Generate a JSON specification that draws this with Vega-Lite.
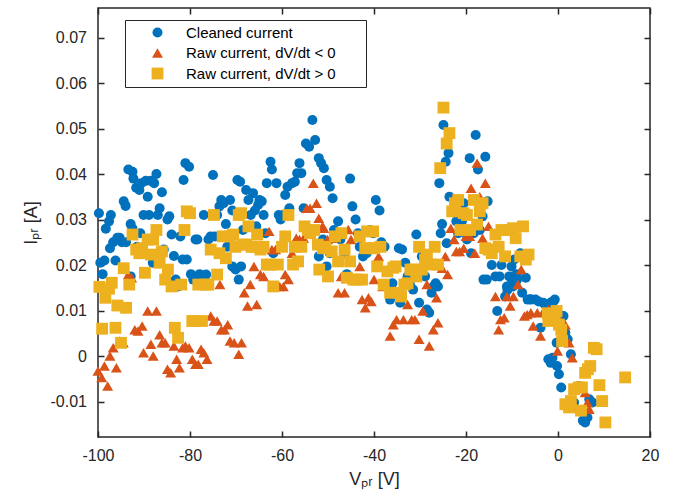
{
"$schema":"https://vega.github.io/schema/vega-lite/v6.json",
"width":552,"height":429,
"autosize":{"type":"none"},
"padding":{"left":98,"top":8,"right":24,"bottom":63},
"background":"white",
"config":{
"view":{"stroke":"#262626","strokeWidth":1.5},
"axis":{"labelFont":"Liberation Sans","labelFontSize":16,"labelColor":"#262626","labelFlush":false,"titleFont":"Liberation Sans","titleFontSize":18,"titleFontWeight":"normal","titleColor":"#262626","tickColor":"#262626","tickWidth":1.5,"tickSize":-6,"domain":false,"grid":false}
},
"data":{"values":[
{"v":-99.8,"i":0.0314,"s":"C"},{"v":-99.5,"i":0.0205,"s":"C"},{"v":-99,"i":0.018,"s":"C"},{"v":-98.6,"i":0.021,"s":"C"},{"v":-98.3,"i":0.028,"s":"C"},{"v":-97.6,"i":0.0296,"s":"C"},{"v":-97.2,"i":0.031,"s":"C"},{"v":-97.4,"i":0.0237,"s":"C"},{"v":-96.7,"i":0.025,"s":"C"},{"v":-96.2,"i":0.021,"s":"C"},{"v":-95.8,"i":0.026,"s":"C"},{"v":-95.3,"i":0.026,"s":"C"},{"v":-94.8,"i":0.025,"s":"C"},{"v":-94.4,"i":0.034,"s":"C"},{"v":-94,"i":0.033,"s":"C"},{"v":-93.9,"i":0.025,"s":"C"},{"v":-93.4,"i":0.041,"s":"C"},{"v":-92.5,"i":0.0405,"s":"C"},{"v":-92.9,"i":0.029,"s":"C"},{"v":-92.3,"i":0.039,"s":"C"},{"v":-91.7,"i":0.037,"s":"C"},{"v":-91,"i":0.0365,"s":"C"},{"v":-90.6,"i":0.038,"s":"C"},{"v":-92.9,"i":0.0175,"s":"C"},{"v":-92.5,"i":0.028,"s":"C"},{"v":-91.5,"i":0.024,"s":"C"},{"v":-90.8,"i":0.027,"s":"C"},{"v":-90.1,"i":0.031,"s":"C"},{"v":-89.6,"i":0.0385,"s":"C"},{"v":-89.2,"i":0.035,"s":"C"},{"v":-88.9,"i":0.031,"s":"C"},{"v":-88.5,"i":0.0385,"s":"C"},{"v":-88.1,"i":0.0205,"s":"C"},{"v":-87.8,"i":0.038,"s":"C"},{"v":-87.3,"i":0.04,"s":"C"},{"v":-87,"i":0.031,"s":"C"},{"v":-86.6,"i":0.0325,"s":"C"},{"v":-86.1,"i":0.036,"s":"C"},{"v":-85.7,"i":0.0234,"s":"C"},{"v":-84.9,"i":0.03,"s":"C"},{"v":-84.5,"i":0.0307,"s":"C"},{"v":-84,"i":0.0267,"s":"C"},{"v":-83.5,"i":0.022,"s":"C"},{"v":-83.1,"i":0.0168,"s":"C"},{"v":-82.6,"i":0.0153,"s":"C"},{"v":-82.1,"i":0.0263,"s":"C"},{"v":-81.6,"i":0.0212,"s":"C"},{"v":-81.4,"i":0.0387,"s":"C"},{"v":-81,"i":0.0424,"s":"C"},{"v":-80.2,"i":0.0416,"s":"C"},{"v":-80.7,"i":0.0212,"s":"C"},{"v":-79.8,"i":0.018,"s":"C"},{"v":-79.3,"i":0.0168,"s":"C"},{"v":-78.8,"i":0.0256,"s":"C"},{"v":-78.4,"i":0.0256,"s":"C"},{"v":-77.9,"i":0.018,"s":"C"},{"v":-77.4,"i":0.0175,"s":"C"},{"v":-77,"i":0.031,"s":"C"},{"v":-76.5,"i":0.0179,"s":"C"},{"v":-76,"i":0.0256,"s":"C"},{"v":-75.5,"i":0.0263,"s":"C"},{"v":-75,"i":0.0398,"s":"C"},{"v":-74.6,"i":0.0263,"s":"C"},{"v":-74.1,"i":0.031,"s":"C"},{"v":-73.6,"i":0.0329,"s":"C"},{"v":-73.2,"i":0.0343,"s":"C"},{"v":-72.7,"i":0.0336,"s":"C"},{"v":-72.2,"i":0.029,"s":"C"},{"v":-71.9,"i":0.024,"s":"C"},{"v":-71.3,"i":0.0343,"s":"C"},{"v":-70.8,"i":0.032,"s":"C"},{"v":-70.8,"i":0.0197,"s":"C"},{"v":-70.1,"i":0.019,"s":"C"},{"v":-69.7,"i":0.0387,"s":"C"},{"v":-69.1,"i":0.0383,"s":"C"},{"v":-69.4,"i":0.0168,"s":"C"},{"v":-68.9,"i":0.0197,"s":"C"},{"v":-68.5,"i":0.0277,"s":"C"},{"v":-67.8,"i":0.0365,"s":"C"},{"v":-67.3,"i":0.0343,"s":"C"},{"v":-66.8,"i":0.031,"s":"C"},{"v":-66.3,"i":0.0358,"s":"C"},{"v":-65.9,"i":0.032,"s":"C"},{"v":-65.6,"i":0.0285,"s":"C"},{"v":-65.2,"i":0.0332,"s":"C"},{"v":-64.9,"i":0.0343,"s":"C"},{"v":-64.4,"i":0.034,"s":"C"},{"v":-64,"i":0.031,"s":"C"},{"v":-63.6,"i":0.027,"s":"C"},{"v":-63.3,"i":0.038,"s":"C"},{"v":-62.5,"i":0.0427,"s":"C"},{"v":-62.2,"i":0.041,"s":"C"},{"v":-61.9,"i":0.0226,"s":"C"},{"v":-61.2,"i":0.038,"s":"C"},{"v":-60.7,"i":0.031,"s":"C"},{"v":-60.3,"i":0.03,"s":"C"},{"v":-59.7,"i":0.031,"s":"C"},{"v":-59.3,"i":0.0354,"s":"C"},{"v":-58.8,"i":0.0372,"s":"C"},{"v":-58.4,"i":0.0325,"s":"C"},{"v":-57.8,"i":0.038,"s":"C"},{"v":-57.2,"i":0.0383,"s":"C"},{"v":-56.7,"i":0.0402,"s":"C"},{"v":-56.2,"i":0.0424,"s":"C"},{"v":-55.8,"i":0.0402,"s":"C"},{"v":-55.3,"i":0.0325,"s":"C"},{"v":-54.8,"i":0.0467,"s":"C"},{"v":-54.1,"i":0.046,"s":"C"},{"v":-53.4,"i":0.0519,"s":"C"},{"v":-52.8,"i":0.0475,"s":"C"},{"v":-52,"i":0.0435,"s":"C"},{"v":-51.5,"i":0.0424,"s":"C"},{"v":-50.9,"i":0.0413,"s":"C"},{"v":-50.3,"i":0.0387,"s":"C"},{"v":-49.6,"i":0.0372,"s":"C"},{"v":-49,"i":0.0347,"s":"C"},{"v":-52,"i":0.0219,"s":"C"},{"v":-51.1,"i":0.0256,"s":"C"},{"v":-50.3,"i":0.0197,"s":"C"},{"v":-49.6,"i":0.0226,"s":"C"},{"v":-48.7,"i":0.0277,"s":"C"},{"v":-47.8,"i":0.0296,"s":"C"},{"v":-47.3,"i":0.0256,"s":"C"},{"v":-46.4,"i":0.0226,"s":"C"},{"v":-45.9,"i":0.018,"s":"C"},{"v":-45.2,"i":0.039,"s":"C"},{"v":-44.7,"i":0.0329,"s":"C"},{"v":-44,"i":0.03,"s":"C"},{"v":-43.5,"i":0.027,"s":"C"},{"v":-43.1,"i":0.024,"s":"C"},{"v":-42.4,"i":0.0219,"s":"C"},{"v":-41.6,"i":0.0226,"s":"C"},{"v":-40.9,"i":0.0277,"s":"C"},{"v":-40.2,"i":0.027,"s":"C"},{"v":-39.6,"i":0.0343,"s":"C"},{"v":-38.8,"i":0.032,"s":"C"},{"v":-38.4,"i":0.025,"s":"C"},{"v":-37.7,"i":0.024,"s":"C"},{"v":-36.9,"i":0.0153,"s":"C"},{"v":-36.5,"i":0.0124,"s":"C"},{"v":-36,"i":0.016,"s":"C"},{"v":-35.2,"i":0.0139,"s":"C"},{"v":-34.6,"i":0.0237,"s":"C"},{"v":-33.9,"i":0.0234,"s":"C"},{"v":-34.3,"i":0.0117,"s":"C"},{"v":-33.2,"i":0.0205,"s":"C"},{"v":-32.7,"i":0.0175,"s":"C"},{"v":-32.2,"i":0.0157,"s":"C"},{"v":-31.5,"i":0.0146,"s":"C"},{"v":-30.8,"i":0.0267,"s":"C"},{"v":-30.2,"i":0.0117,"s":"C"},{"v":-29.6,"i":0.0219,"s":"C"},{"v":-28.9,"i":0.0175,"s":"C"},{"v":-28.5,"i":0.0102,"s":"C"},{"v":-28,"i":0.0095,"s":"C"},{"v":-27.5,"i":0.0139,"s":"C"},{"v":-27.1,"i":0.0153,"s":"C"},{"v":-26.6,"i":0.016,"s":"C"},{"v":-26.1,"i":0.0153,"s":"C"},{"v":-25.8,"i":0.038,"s":"C"},{"v":-25.5,"i":0.027,"s":"C"},{"v":-25.2,"i":0.029,"s":"C"},{"v":-24.9,"i":0.0508,"s":"C"},{"v":-24.4,"i":0.0427,"s":"C"},{"v":-23.8,"i":0.0446,"s":"C"},{"v":-23.6,"i":0.035,"s":"C"},{"v":-24.2,"i":0.0248,"s":"C"},{"v":-23,"i":0.0318,"s":"C"},{"v":-22.6,"i":0.0321,"s":"C"},{"v":-22.1,"i":0.0296,"s":"C"},{"v":-21.7,"i":0.027,"s":"C"},{"v":-21.4,"i":0.0307,"s":"C"},{"v":-20.9,"i":0.0296,"s":"C"},{"v":-20.5,"i":0.0336,"s":"C"},{"v":-20,"i":0.027,"s":"C"},{"v":-19.8,"i":0.0256,"s":"C"},{"v":-19.2,"i":0.0435,"s":"C"},{"v":-18.9,"i":0.0226,"s":"C"},{"v":-18.3,"i":0.027,"s":"C"},{"v":-17.9,"i":0.0486,"s":"C"},{"v":-17.4,"i":0.041,"s":"C"},{"v":-17,"i":0.0277,"s":"C"},{"v":-16.4,"i":0.0307,"s":"C"},{"v":-15.8,"i":0.0438,"s":"C"},{"v":-15.3,"i":0.034,"s":"C"},{"v":-16.2,"i":0.0168,"s":"C"},{"v":-15.5,"i":0.0168,"s":"C"},{"v":-14.4,"i":0.02,"s":"C"},{"v":-13.6,"i":0.0175,"s":"C"},{"v":-13.2,"i":0.0099,"s":"C"},{"v":-12.7,"i":0.0175,"s":"C"},{"v":-12.3,"i":0.02,"s":"C"},{"v":-11.5,"i":0.0131,"s":"C"},{"v":-11.1,"i":0.0153,"s":"C"},{"v":-11,"i":0.0145,"s":"C"},{"v":-10.6,"i":0.0175,"s":"C"},{"v":-10.1,"i":0.0197,"s":"C"},{"v":-10,"i":0.016,"s":"C"},{"v":-9.8,"i":0.0153,"s":"C"},{"v":-9.5,"i":0.0212,"s":"C"},{"v":-9,"i":0.018,"s":"C"},{"v":-8.9,"i":0.0168,"s":"C"},{"v":-8.2,"i":0.0226,"s":"C"},{"v":-7.8,"i":0.0139,"s":"C"},{"v":-7,"i":0.0172,"s":"C"},{"v":-6.6,"i":0.0124,"s":"C"},{"v":-6,"i":0.0125,"s":"C"},{"v":-5.9,"i":0.0124,"s":"C"},{"v":-4.9,"i":0.0124,"s":"C"},{"v":-4.2,"i":0.012,"s":"C"},{"v":-3.8,"i":0.0062,"s":"C"},{"v":-3.2,"i":0.0117,"s":"C"},{"v":-2.6,"i":0.011,"s":"C"},{"v":-2.1,"i":-0.0007,"s":"C"},{"v":-1.6,"i":-0.0015,"s":"C"},{"v":-1.5,"i":0.0118,"s":"C"},{"v":-1.2,"i":-0.0004,"s":"C"},{"v":-1,"i":0.012,"s":"C"},{"v":-0.7,"i":0.0124,"s":"C"},{"v":-0.3,"i":0.0029,"s":"C"},{"v":-0.2,"i":-0.0022,"s":"C"},{"v":0.2,"i":-0.004,"s":"C"},{"v":0.5,"i":0.009,"s":"C"},{"v":0.7,"i":-0.0069,"s":"C"},{"v":1.2,"i":0.0088,"s":"C"},{"v":1.6,"i":0.0051,"s":"C"},{"v":2.1,"i":0.0037,"s":"C"},{"v":2.8,"i":0.0004,"s":"C"},{"v":3.5,"i":-0.0102,"s":"C"},{"v":4.5,"i":-0.0066,"s":"C"},{"v":5.4,"i":-0.0142,"s":"C"},{"v":5.9,"i":-0.0146,"s":"C"},{"v":6.4,"i":-0.0135,"s":"C"},{"v":6.8,"i":-0.0095,"s":"C"},{"v":7.5,"i":-0.0102,"s":"C"},
{"v":-100,"i":-0.0033,"s":"N"},{"v":-99.2,"i":-0.0047,"s":"N"},{"v":-98.6,"i":-0.0022,"s":"N"},{"v":-97.9,"i":-0.0066,"s":"N"},{"v":-97.4,"i":0,"s":"N"},{"v":-96.7,"i":0.0018,"s":"N"},{"v":-96,"i":-0.0026,"s":"N"},{"v":-95.3,"i":0.0033,"s":"N"},{"v":-94.5,"i":0.0029,"s":"N"},{"v":-93.4,"i":0.0179,"s":"N"},{"v":-92.7,"i":0.0172,"s":"N"},{"v":-92,"i":0.0058,"s":"N"},{"v":-91.3,"i":0.0055,"s":"N"},{"v":-90.4,"i":0.0066,"s":"N"},{"v":-90.1,"i":0.0007,"s":"N"},{"v":-89.2,"i":0.0099,"s":"N"},{"v":-88.5,"i":0.0026,"s":"N"},{"v":-88,"i":0,"s":"N"},{"v":-87.3,"i":0.0099,"s":"N"},{"v":-86.6,"i":0.0047,"s":"N"},{"v":-86.1,"i":0.0029,"s":"N"},{"v":-85.4,"i":0.0029,"s":"N"},{"v":-84.9,"i":-0.0029,"s":"N"},{"v":-84.2,"i":-0.0037,"s":"N"},{"v":-83.5,"i":0.0022,"s":"N"},{"v":-82.9,"i":-0.0007,"s":"N"},{"v":-82.3,"i":-0.0026,"s":"N"},{"v":-81.6,"i":0.0018,"s":"N"},{"v":-81,"i":0.0022,"s":"N"},{"v":-80.2,"i":0.0018,"s":"N"},{"v":-79.5,"i":-0.0007,"s":"N"},{"v":-78.8,"i":-0.0018,"s":"N"},{"v":-78.2,"i":-0.0018,"s":"N"},{"v":-77.6,"i":0.0015,"s":"N"},{"v":-77,"i":0.0007,"s":"N"},{"v":-76.3,"i":-0.0007,"s":"N"},{"v":-75.5,"i":0.0088,"s":"N"},{"v":-74.8,"i":0.0077,"s":"N"},{"v":-74.1,"i":0.0077,"s":"N"},{"v":-73.5,"i":0.0157,"s":"N"},{"v":-73.2,"i":0.0058,"s":"N"},{"v":-72.5,"i":0.0058,"s":"N"},{"v":-71.8,"i":0.0069,"s":"N"},{"v":-71.3,"i":0.0033,"s":"N"},{"v":-70.4,"i":0.0029,"s":"N"},{"v":-69.4,"i":0.0004,"s":"N"},{"v":-68.8,"i":0.0029,"s":"N"},{"v":-68.2,"i":0.0139,"s":"N"},{"v":-67.5,"i":0.011,"s":"N"},{"v":-66.9,"i":0.0157,"s":"N"},{"v":-66.1,"i":0.0197,"s":"N"},{"v":-65.5,"i":0.0113,"s":"N"},{"v":-64.7,"i":0.0179,"s":"N"},{"v":-64,"i":0.0175,"s":"N"},{"v":-62.8,"i":0.0274,"s":"N"},{"v":-62.2,"i":0.0234,"s":"N"},{"v":-61.4,"i":0.0234,"s":"N"},{"v":-60.5,"i":0.0153,"s":"N"},{"v":-59.7,"i":0.0153,"s":"N"},{"v":-59.3,"i":0.0179,"s":"N"},{"v":-58.6,"i":0.0168,"s":"N"},{"v":-57.8,"i":0.0226,"s":"N"},{"v":-56.9,"i":0.0259,"s":"N"},{"v":-56.2,"i":0.0256,"s":"N"},{"v":-55.3,"i":0.0259,"s":"N"},{"v":-54.6,"i":0.0325,"s":"N"},{"v":-53.9,"i":0.0325,"s":"N"},{"v":-53.2,"i":0.038,"s":"N"},{"v":-52.5,"i":0.0336,"s":"N"},{"v":-52,"i":0.0303,"s":"N"},{"v":-51.2,"i":0.0285,"s":"N"},{"v":-50.9,"i":0.0281,"s":"N"},{"v":-50.1,"i":0.0256,"s":"N"},{"v":-49.2,"i":0.0259,"s":"N"},{"v":-47.8,"i":0.0139,"s":"N"},{"v":-47.1,"i":0.0175,"s":"N"},{"v":-46.4,"i":0.0139,"s":"N"},{"v":-45.6,"i":0.0278,"s":"N"},{"v":-45,"i":0.0256,"s":"N"},{"v":-43.1,"i":0.0197,"s":"N"},{"v":-42.6,"i":0.0124,"s":"N"},{"v":-41.9,"i":0.0106,"s":"N"},{"v":-41.2,"i":0.0128,"s":"N"},{"v":-40.6,"i":0.012,"s":"N"},{"v":-40,"i":0.0168,"s":"N"},{"v":-39,"i":0.0219,"s":"N"},{"v":-38.1,"i":0.0153,"s":"N"},{"v":-36.5,"i":0.0044,"s":"N"},{"v":-35.8,"i":0.0069,"s":"N"},{"v":-35.1,"i":0.008,"s":"N"},{"v":-33.6,"i":0.008,"s":"N"},{"v":-32.7,"i":0.0113,"s":"N"},{"v":-31.8,"i":0.008,"s":"N"},{"v":-31.1,"i":0.008,"s":"N"},{"v":-30.2,"i":0.0037,"s":"N"},{"v":-29.4,"i":0.0099,"s":"N"},{"v":-28.5,"i":0.0157,"s":"N"},{"v":-28,"i":0.0022,"s":"N"},{"v":-27.1,"i":0.0058,"s":"N"},{"v":-26.4,"i":0.0128,"s":"N"},{"v":-26.1,"i":0.0073,"s":"N"},{"v":-25.2,"i":0.0193,"s":"N"},{"v":-24.5,"i":0.0219,"s":"N"},{"v":-24,"i":0.0179,"s":"N"},{"v":-23.3,"i":0.0281,"s":"N"},{"v":-22.6,"i":0.0256,"s":"N"},{"v":-22.1,"i":0.023,"s":"N"},{"v":-21.4,"i":0.023,"s":"N"},{"v":-20.5,"i":0.0237,"s":"N"},{"v":-20,"i":0.0263,"s":"N"},{"v":-19.2,"i":0.0263,"s":"N"},{"v":-18.9,"i":0.0369,"s":"N"},{"v":-18.1,"i":0.0226,"s":"N"},{"v":-17.6,"i":0.0424,"s":"N"},{"v":-17,"i":0.035,"s":"N"},{"v":-16.4,"i":0.0259,"s":"N"},{"v":-15.8,"i":0.038,"s":"N"},{"v":-15.1,"i":0.0285,"s":"N"},{"v":-13.6,"i":0.0131,"s":"N"},{"v":-12.9,"i":0.0058,"s":"N"},{"v":-12.5,"i":0.008,"s":"N"},{"v":-11.7,"i":0.0084,"s":"N"},{"v":-11.1,"i":0.0131,"s":"N"},{"v":-10.4,"i":0.011,"s":"N"},{"v":-9.7,"i":0.0131,"s":"N"},{"v":-8.7,"i":0.0157,"s":"N"},{"v":-8,"i":0.019,"s":"N"},{"v":-7.3,"i":0.0088,"s":"N"},{"v":-6.7,"i":0.0091,"s":"N"},{"v":-5.9,"i":0.0095,"s":"N"},{"v":-5.4,"i":0.0066,"s":"N"},{"v":-4.5,"i":0.0095,"s":"N"},{"v":-3.8,"i":0.0044,"s":"N"},{"v":-3.1,"i":0.0099,"s":"N"},{"v":-2.1,"i":0.0102,"s":"N"},{"v":-1.2,"i":0.0091,"s":"N"},{"v":-0.1,"i":0.0011,"s":"N"},{"v":0.7,"i":0.0077,"s":"N"},{"v":1.6,"i":0.0069,"s":"N"},{"v":2.4,"i":0.0029,"s":"N"},{"v":3.1,"i":-0.0004,"s":"N"},{"v":4,"i":-0.0113,"s":"N"},{"v":5.9,"i":-0.008,"s":"N"},{"v":6.4,"i":-0.0102,"s":"N"},{"v":6.8,"i":-0.0117,"s":"N"},
{"v":-99.7,"i":0.0152,"s":"P"},{"v":-99.1,"i":0.006,"s":"P"},{"v":-98.4,"i":0.0128,"s":"P"},{"v":-97.6,"i":0.0148,"s":"P"},{"v":-97,"i":0.0161,"s":"P"},{"v":-96.2,"i":0.0062,"s":"P"},{"v":-95.8,"i":0.0111,"s":"P"},{"v":-95,"i":0.0029,"s":"P"},{"v":-94.4,"i":0.0193,"s":"P"},{"v":-93.9,"i":0.0106,"s":"P"},{"v":-93.2,"i":0.0157,"s":"P"},{"v":-92.5,"i":0.0267,"s":"P"},{"v":-91.7,"i":0.0234,"s":"P"},{"v":-91,"i":0.0226,"s":"P"},{"v":-90.4,"i":0.0237,"s":"P"},{"v":-89.8,"i":0.0183,"s":"P"},{"v":-89.2,"i":0.0256,"s":"P"},{"v":-88.5,"i":0.0223,"s":"P"},{"v":-88,"i":0.0256,"s":"P"},{"v":-87.3,"i":0.0277,"s":"P"},{"v":-86.6,"i":0.0205,"s":"P"},{"v":-86.1,"i":0.023,"s":"P"},{"v":-85.4,"i":0.0168,"s":"P"},{"v":-84.8,"i":0.019,"s":"P"},{"v":-84,"i":0.0153,"s":"P"},{"v":-83.3,"i":0.0062,"s":"P"},{"v":-82.6,"i":0.004,"s":"P"},{"v":-81.9,"i":0.0157,"s":"P"},{"v":-81.2,"i":0.0277,"s":"P"},{"v":-80.7,"i":0.0318,"s":"P"},{"v":-80,"i":0.0314,"s":"P"},{"v":-79.5,"i":0.0077,"s":"P"},{"v":-78.8,"i":0.0077,"s":"P"},{"v":-78.2,"i":0.0157,"s":"P"},{"v":-77.4,"i":0.0077,"s":"P"},{"v":-76.7,"i":0.0157,"s":"P"},{"v":-76,"i":0.0157,"s":"P"},{"v":-75.5,"i":0.0234,"s":"P"},{"v":-74.8,"i":0.031,"s":"P"},{"v":-74.1,"i":0.0179,"s":"P"},{"v":-73.6,"i":0.0226,"s":"P"},{"v":-72.9,"i":0.0263,"s":"P"},{"v":-72.2,"i":0.0215,"s":"P"},{"v":-71.3,"i":0.0263,"s":"P"},{"v":-70.6,"i":0.0267,"s":"P"},{"v":-70.1,"i":0.024,"s":"P"},{"v":-69.4,"i":0.031,"s":"P"},{"v":-68.9,"i":0.0314,"s":"P"},{"v":-68.5,"i":0.0245,"s":"P"},{"v":-67.8,"i":0.0245,"s":"P"},{"v":-67.3,"i":0.0285,"s":"P"},{"v":-66.6,"i":0.024,"s":"P"},{"v":-65.9,"i":0.024,"s":"P"},{"v":-65.4,"i":0.0267,"s":"P"},{"v":-64.7,"i":0.0234,"s":"P"},{"v":-64,"i":0.024,"s":"P"},{"v":-63.3,"i":0.0201,"s":"P"},{"v":-62.5,"i":0.0201,"s":"P"},{"v":-61.9,"i":0.0153,"s":"P"},{"v":-60.9,"i":0.0201,"s":"P"},{"v":-60,"i":0.024,"s":"P"},{"v":-59.3,"i":0.0263,"s":"P"},{"v":-58.6,"i":0.031,"s":"P"},{"v":-57.6,"i":0.0201,"s":"P"},{"v":-57.2,"i":0.024,"s":"P"},{"v":-56.5,"i":0.0208,"s":"P"},{"v":-55.8,"i":0.024,"s":"P"},{"v":-55.1,"i":0.0285,"s":"P"},{"v":-54.4,"i":0.0277,"s":"P"},{"v":-53.9,"i":0.027,"s":"P"},{"v":-53,"i":0.0277,"s":"P"},{"v":-52.2,"i":0.0245,"s":"P"},{"v":-51.9,"i":0.019,"s":"P"},{"v":-51.1,"i":0.0237,"s":"P"},{"v":-50.6,"i":0.024,"s":"P"},{"v":-50,"i":0.0175,"s":"P"},{"v":-49.2,"i":0.023,"s":"P"},{"v":-48.5,"i":0.0263,"s":"P"},{"v":-47.8,"i":0.0208,"s":"P"},{"v":-47.1,"i":0.027,"s":"P"},{"v":-46.4,"i":0.0234,"s":"P"},{"v":-45.9,"i":0.0172,"s":"P"},{"v":-45.2,"i":0.0208,"s":"P"},{"v":-44.5,"i":0.0168,"s":"P"},{"v":-43.8,"i":0.0168,"s":"P"},{"v":-43.1,"i":0.0263,"s":"P"},{"v":-42.6,"i":0.0168,"s":"P"},{"v":-41.9,"i":0.0237,"s":"P"},{"v":-41.5,"i":0.0274,"s":"P"},{"v":-40.9,"i":0.0237,"s":"P"},{"v":-40.2,"i":0.0274,"s":"P"},{"v":-40,"i":0.0237,"s":"P"},{"v":-39.3,"i":0.0197,"s":"P"},{"v":-38.6,"i":0.024,"s":"P"},{"v":-37.9,"i":0.0157,"s":"P"},{"v":-37.1,"i":0.0186,"s":"P"},{"v":-36.5,"i":0.0139,"s":"P"},{"v":-35.8,"i":0.0194,"s":"P"},{"v":-35.3,"i":0.0197,"s":"P"},{"v":-34.6,"i":0.0139,"s":"P"},{"v":-34.1,"i":0.0131,"s":"P"},{"v":-33.4,"i":0.0157,"s":"P"},{"v":-32.7,"i":0.016,"s":"P"},{"v":-32.1,"i":0.019,"s":"P"},{"v":-31.5,"i":0.019,"s":"P"},{"v":-30.8,"i":0.0175,"s":"P"},{"v":-30.2,"i":0.024,"s":"P"},{"v":-29.6,"i":0.019,"s":"P"},{"v":-28.9,"i":0.0212,"s":"P"},{"v":-28.5,"i":0.0223,"s":"P"},{"v":-27.5,"i":0.0201,"s":"P"},{"v":-26.8,"i":0.024,"s":"P"},{"v":-26.1,"i":0.0201,"s":"P"},{"v":-25.6,"i":0.0413,"s":"P"},{"v":-24.9,"i":0.0546,"s":"P"},{"v":-24.2,"i":0.0467,"s":"P"},{"v":-23.6,"i":0.049,"s":"P"},{"v":-23,"i":0.0318,"s":"P"},{"v":-22.4,"i":0.0336,"s":"P"},{"v":-21.7,"i":0.0343,"s":"P"},{"v":-21.2,"i":0.0277,"s":"P"},{"v":-20.5,"i":0.0314,"s":"P"},{"v":-19.8,"i":0.031,"s":"P"},{"v":-19.1,"i":0.0277,"s":"P"},{"v":-18.3,"i":0.0343,"s":"P"},{"v":-17.6,"i":0.0289,"s":"P"},{"v":-17,"i":0.0318,"s":"P"},{"v":-16.4,"i":0.0336,"s":"P"},{"v":-15.8,"i":0.0237,"s":"P"},{"v":-15.1,"i":0.0234,"s":"P"},{"v":-14.4,"i":0.0226,"s":"P"},{"v":-13.6,"i":0.0267,"s":"P"},{"v":-12.9,"i":0.024,"s":"P"},{"v":-12.3,"i":0.0277,"s":"P"},{"v":-11.5,"i":0.0219,"s":"P"},{"v":-10.6,"i":0.0277,"s":"P"},{"v":-9.8,"i":0.0281,"s":"P"},{"v":-9.2,"i":0.0259,"s":"P"},{"v":-8.2,"i":0.0219,"s":"P"},{"v":-7.6,"i":0.0285,"s":"P"},{"v":-7,"i":0.0212,"s":"P"},{"v":-6.4,"i":0.0223,"s":"P"},{"v":-2.2,"i":0.0094,"s":"P"},{"v":-2.1,"i":0.0077,"s":"P"},{"v":-1.4,"i":0.008,"s":"P"},{"v":-0.7,"i":0.0091,"s":"P"},{"v":-0.3,"i":0.0099,"s":"P"},{"v":0.2,"i":0.0069,"s":"P"},{"v":0.7,"i":0.0058,"s":"P"},{"v":0.9,"i":0.0033,"s":"P"},{"v":1.6,"i":-0.0106,"s":"P"},{"v":2.4,"i":-0.0113,"s":"P"},{"v":2.8,"i":-0.0099,"s":"P"},{"v":3.5,"i":-0.0073,"s":"P"},{"v":4.5,"i":-0.0069,"s":"P"},{"v":5,"i":-0.012,"s":"P"},{"v":5.2,"i":-0.0069,"s":"P"},{"v":5.9,"i":-0.0037,"s":"P"},{"v":6.5,"i":-0.0029,"s":"P"},{"v":7,"i":-0.0022,"s":"P"},{"v":7.8,"i":0.0018,"s":"P"},{"v":8.4,"i":0.0015,"s":"P"},{"v":9,"i":-0.0064,"s":"P"},{"v":9.6,"i":-0.0099,"s":"P"},{"v":10.3,"i":-0.0146,"s":"P"},{"v":14.6,"i":-0.0047,"s":"P"}
]},
"layer":[
{"mark":{"type":"point","filled":true,"opacity":1,"strokeWidth":0},
"encoding":{
"x":{"field":"v","type":"quantitative","scale":{"domain":[-100,20],"nice":false,"zero":false,"padding":0},
"axis":{"orient":"bottom","values":[-100,-80,-60,-40,-20,0,20],"format":"d","labelExpr":"replace(datum.label, '\u2212', '-')","labelPadding":16,"title":"Vₚᵣ [V]","titlePadding":7}},
"y":{"field":"i","type":"quantitative","scale":{"domain":[-0.0178,0.0765],"nice":false,"zero":false,"padding":0},
"axis":{"orient":"left","values":[-0.01,0,0.01,0.02,0.03,0.04,0.05,0.06,0.07],"format":".2~f","labelExpr":"replace(datum.label, '\u2212', '-')","labelPadding":17.5,"title":"Iₚᵣ [A]","titlePadding":10}},
"color":{"field":"s","type":"nominal","scale":{"domain":["C","N","P"],"range":["#0072BD","#D95319","#EDB120"]},
"legend":{"title":"I","titleOrient":"right","titleOpacity":0,"titleFontSize":15,"titlePadding":20,"orient":"none","legendX":27,"legendY":12,"labelFont":"Liberation Sans","labelFontSize":15,"labelColor":"#000000","labelLimit":400,"strokeColor":"#262626","fillColor":"white","padding":5,"rowPadding":4.5,"symbolOffset":20,"labelOffset":21,"symbolSize":100,"symbolStrokeWidth":0,
"labelExpr":"datum.label == 'C' ? 'Cleaned current' : datum.label == 'N' ? 'Raw current, dV/dt < 0' : 'Raw current, dV/dt > 0'"}},
"shape":{"field":"s","type":"nominal","scale":{"domain":["C","N","P"],"range":["circle","triangle-up","square"]},
"legend":{"title":"I","titleOrient":"right","titleOpacity":0,"titleFontSize":15,"titlePadding":20,"orient":"none","legendX":27,"legendY":12,"labelFont":"Liberation Sans","labelFontSize":15,"labelColor":"#000000","labelLimit":400,"strokeColor":"#262626","fillColor":"white","padding":5,"rowPadding":4.5,"symbolOffset":20,"labelOffset":21,"symbolSize":100,"symbolStrokeWidth":0,
"labelExpr":"datum.label == 'C' ? 'Cleaned current' : datum.label == 'N' ? 'Raw current, dV/dt < 0' : 'Raw current, dV/dt > 0'"}},
"size":{"field":"s","type":"nominal","scale":{"domain":["C","N","P"],"range":[100,140,82]},"legend":null}
}},
{"mark":{"type":"point","opacity":0},
"encoding":{
"x":{"field":"v","type":"quantitative","scale":{"domain":[-100,20],"nice":false,"zero":false,"padding":0},"axis":{"orient":"top","values":[-100,-80,-60,-40,-20,0,20],"labels":false,"title":null}},
"y":{"field":"i","type":"quantitative","scale":{"domain":[-0.0178,0.0765],"nice":false,"zero":false,"padding":0},"axis":{"orient":"right","values":[-0.01,0,0.01,0.02,0.03,0.04,0.05,0.06,0.07],"labels":false,"title":null}}
}}
],
"resolve":{"axis":{"x":"independent","y":"independent"}}
}
